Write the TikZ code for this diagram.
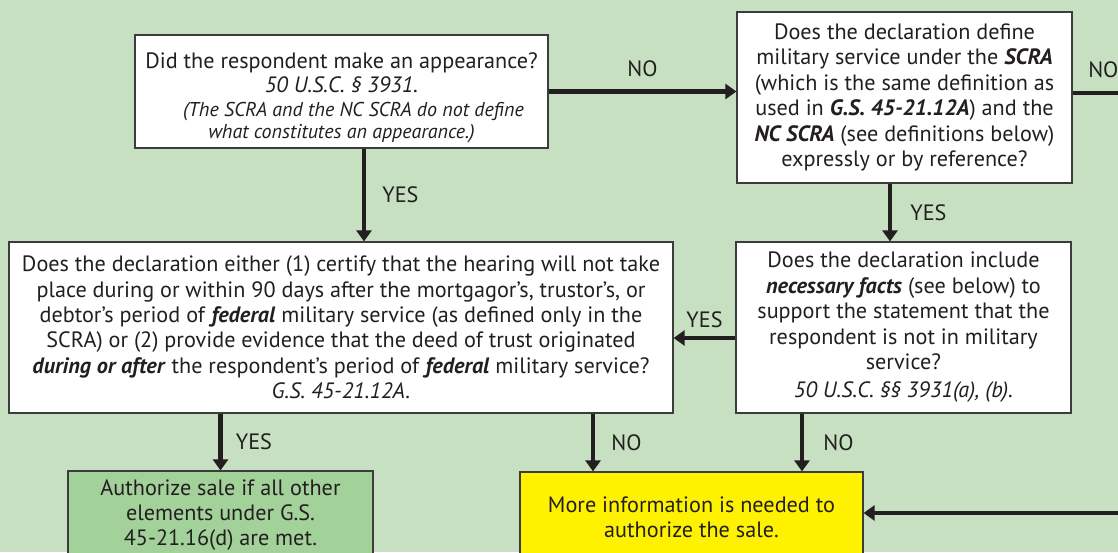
\documentclass[tikz,border=0pt]{standalone}
\usepackage{fontspec}
\setmainfont{PT Sans}
\usetikzlibrary{arrows.meta}

\definecolor{bggreen}{RGB}{199,224,193}
\definecolor{okgreen}{RGB}{163,209,154}
\definecolor{infoyellow}{RGB}{255,242,0}
\definecolor{ink}{RGB}{35,31,32}
\definecolor{edgegray}{RGB}{60,60,60}

\newcommand{\bi}[1]{\textbf{\textit{#1}}}

\begin{document}
\begin{tikzpicture}[x=0.5pt,y=-0.5pt,->,>={Triangle[width=7.5pt,length=5.5pt]},
    line width=2.4pt,draw=ink,font=\fontsize{11.1}{12.7}\selectfont]
  \tikzstyle{question}=[draw=edgegray,line width=0.6pt,fill=white,text=ink,align=center,inner sep=0pt]
  \tikzstyle{outcome}=[question,fill=okgreen]
  \tikzstyle{needmore}=[question,fill=infoyellow]
  \tikzstyle{lbl}=[text=ink,inner sep=1pt]

  \useasboundingbox (0,0) rectangle (1118,552);
  \clip (0,0) rectangle (1118,552);
  \fill[bggreen] (0,0) rectangle (1118,552);

  % questions
  \node[question,minimum width=206.5pt,minimum height=56.5pt] (appear) at (341.5,91.5)
    {\rule{0pt}{14pt}Did the respondent make an appearance?\\[-0.5pt]
     \textit{50 U.S.C. § 3931.}\\[-1pt]
     {\fontsize{10}{12}\selectfont\itshape\hspace*{1.2em}(The SCRA and the NC SCRA do not define}\\[-1.5pt]
     {\fontsize{10}{12}\selectfont\itshape what constitutes an appearance.)}};
  \node[question,minimum width=167.5pt,minimum height=85.5pt] (define) at (904.5,97.5)
    {Does the declaration define\\
     military service under the \bi{SCRA}\\
     (which is the same definition as\\
     used in \bi{G.S. 45-21.12A}) and the\\
     \bi{NC SCRA} (see definitions below)\\
     expressly or by reference?};
  \node[question,minimum width=332pt,minimum height=85.5pt] (certify) at (341,327.5)
    {Does the declaration either (1) certify that the hearing will not take\\
     place during or within 90 days after the mortgagor's, trustor's, or\\
     debtor's period of \bi{federal} military service (as defined only in the\\
     SCRA) or (2) provide evidence that the deed of trust originated\\
     \bi{during or after} the respondent's period of \bi{federal} military service?\\
     \textit{G.S. 45-21.12A.}};
  \node[question,minimum width=167.5pt,minimum height=85.5pt] (facts) at (903.5,327.5)
    {Does the declaration include\\
     \bi{necessary facts} (see below) to\\
     support the statement that the\\
     respondent is not in military\\
     service?\\[1.5pt]
     \textit{50 U.S.C. §§ 3931(a), (b).}};

  % results
  \node[outcome,minimum width=152.5pt,minimum height=44pt] (sale) at (220.5,515)
    {Authorize sale if all other\\ elements under G.S.\\ 45-21.16(d) are met.};
  \node[needmore,minimum width=171.5pt,minimum height=45pt] (more) at (691.5,517)
    {More information is needed to\\ authorize the sale.};

  \coordinate (offR) at (1134,93);
  \coordinate (inR) at (1130,513);

  \draw (appear.east) -- (appear.east -| define.west) node[lbl,midway,above=5pt] {NO};
  \draw[-] (offR -| define.east) -- (offR) node[lbl,midway,above=5.5pt] {NO};
  \draw ([xshift=11.25pt]appear.south) -- ([xshift=11.25pt]appear.south |- certify.north)
    node[lbl,midway,right=7pt] {YES};
  \draw ([xshift=-7.25pt]define.south) -- ([xshift=-7.25pt]define.south |- facts.north)
    node[lbl,midway,right=8pt] {YES};
  \draw ([yshift=-5.25pt]facts.west) -- ([yshift=-5.25pt]facts.west -| certify.east)
    node[lbl,midway,above=3pt] {YES};
  \draw (sale.north |- certify.south) -- (sale.north) node[lbl,midway,right=5.5pt] {YES};
  \draw ([xshift=-49.25pt]more.north |- certify.south) -- ([xshift=-49.25pt]more.north)
    node[lbl,midway,right=7pt] {NO};
  \draw ([xshift=55.25pt]more.north |- facts.south) -- ([xshift=55.25pt]more.north)
    node[lbl,midway,right=8.5pt] {NO};
  \draw (inR) -- (inR -| more.east);
\end{tikzpicture}
\end{document}
